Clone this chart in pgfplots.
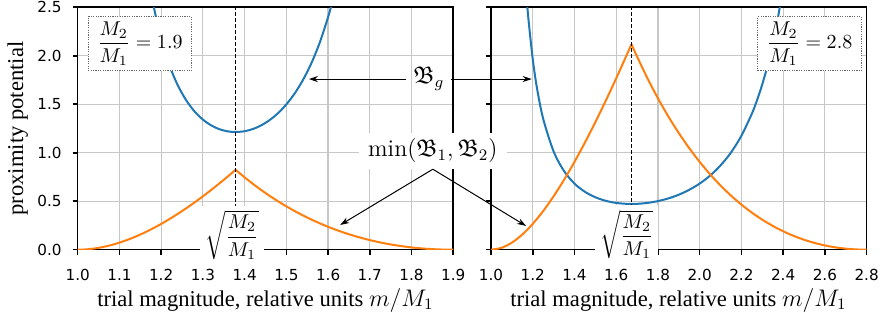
\documentclass[border=0pt]{standalone}
\usepackage{fontspec}
\usepackage{amsmath,amssymb}
\usepackage{pgfplots}
\pgfplotsset{compat=1.18}
\usetikzlibrary{arrows.meta}
\newfontfamily\tickfont{DejaVu Sans}
\newfontfamily\labelfont{Liberation Serif}
\definecolor{tabblue}{HTML}{1F77B4}
\definecolor{taborange}{HTML}{FF7F0E}

\pgfplotsset{
  common/.style={
    scale only axis, width=187.8pt, height=121.2pt,
    ymin=0, ymax=2.5, xmin=1,
    ytick={0,0.5,1,1.5,2,2.5},
    grid=major, grid style={line width=0.6pt, color=black!22},
    axis line style={line width=0.8pt},
    every tick/.style={line width=0.8pt, black},
    tick align=outside, major tick length=2.5pt,
    xtick pos=lower, ytick pos=left,
    ticklabel style={font=\tickfont\fontsize{7.6}{9}\selectfont},
    xticklabel style={anchor=north, inner sep=0pt, yshift=-7pt},
    yticklabel style={anchor=east, inner sep=0pt, xshift=-5.35pt},
    clip mode=individual,
    /pgf/number format/fixed,
    /pgf/number format/fixed zerofill,
    /pgf/number format/precision=1,
    /pgf/number format/assume math mode=true,
  },
  curve/.style={line width=1pt, smooth, no markers},
}
\tikzset{
  ratiobox/.style={fill=white, draw=black!60, line width=0.45pt, dash pattern=on 0.6pt off 0.6pt, inner xsep=4.5pt, inner ysep=2.5pt},
  sqrtlab/.style={fill=white, inner sep=2.5pt},
  arr/.style={-{Stealth[length=4.5pt,width=3pt]}, line width=0.5pt, black},
}
\newcommand{\xlab}{{\labelfont\fontsize{11.3}{13}\selectfont trial magnitude, relative units \fontsize{12}{14}\selectfont$m/M_1$}}

\begin{document}
\begin{tikzpicture}
\path[use as bounding box] (-38.85pt,-32.15pt) rectangle (401.15pt,124.85pt);

% ---------------- left panel ----------------
\begin{axis}[common, name=left, at={(0pt,0pt)}, anchor=south west,
  xmax=1.9, xtick={1,1.1,1.2,1.3,1.4,1.5,1.6,1.7,1.8,1.9}]
\addplot[curve, tabblue] coordinates {
(1.17,2.801) (1.18,2.557) (1.19,2.351) (1.20,2.176) (1.22,1.899) (1.24,1.694)
(1.26,1.541) (1.28,1.426) (1.30,1.342) (1.32,1.282) (1.34,1.242) (1.36,1.220)
(1.3784,1.2137) (1.40,1.222) (1.42,1.245) (1.44,1.283) (1.46,1.337) (1.48,1.408)
(1.50,1.499) (1.52,1.612) (1.54,1.752) (1.56,1.924) (1.58,2.136) (1.60,2.399)
(1.61,2.554) (1.62,2.728)};
\addplot[curve, taborange] coordinates {
(1.00,0) (1.02,0.0031) (1.04,0.0123) (1.06,0.0272) (1.08,0.0474) (1.10,0.0727)
(1.12,0.1027) (1.14,0.1373) (1.16,0.1762) (1.18,0.2192) (1.20,0.2659) (1.22,0.3163)
(1.24,0.3702) (1.26,0.4273) (1.28,0.4875) (1.30,0.5507) (1.32,0.6166) (1.34,0.6852)
(1.36,0.7564) (1.3784,0.8240)};
\addplot[curve, taborange] coordinates {
(1.3784,0.8240) (1.40,0.7461) (1.42,0.6784) (1.44,0.6148) (1.46,0.5551) (1.48,0.4992)
(1.50,0.4470) (1.52,0.3983) (1.54,0.3530) (1.56,0.3110) (1.58,0.2721) (1.60,0.2363)
(1.62,0.2033) (1.64,0.1732) (1.66,0.1459) (1.68,0.1212) (1.70,0.0990) (1.72,0.0792)
(1.74,0.0619) (1.76,0.0469) (1.78,0.0341) (1.80,0.0234) (1.82,0.0148) (1.84,0.0082)
(1.86,0.0036) (1.88,0.0009) (1.90,0)};
\draw[line width=0.5pt, dash pattern=on 2pt off 1pt] (axis cs:1.3784,0) -- (axis cs:1.3784,2.5);
\node[sqrtlab, xshift=-1.8pt] at (axis cs:1.3784,0.152) {$\displaystyle\sqrt{\frac{M_2}{M_1}}$};
\node[ratiobox] at (axis cs:1.149,2.125) {$\dfrac{M_2}{M_1}=1.9$};
\coordinate (BgL) at (axis cs:1.554,1.76);
\coordinate (BgText) at (axis cs:1.8416,1.76);
\coordinate (minText) at (axis cs:1.851,1.02);
\coordinate (minL) at (axis cs:1.629,0.255);
\end{axis}

% ---------------- right panel ----------------
\begin{axis}[common, name=right, at={(206.65pt,0pt)}, anchor=south west,
  xmax=2.8, xtick={1,1.2,1.4,1.6,1.8,2,2.2,2.4,2.6,2.8}, yticklabels={}]
\addplot[curve, tabblue] coordinates {
(1.16,2.918) (1.17,2.618) (1.18,2.365) (1.20,1.967) (1.22,1.671) (1.25,1.351)
(1.30,1.014) (1.35,0.811) (1.40,0.682) (1.45,0.597) (1.50,0.541) (1.55,0.504)
(1.60,0.4825) (1.65,0.4727) (1.6733,0.4717) (1.70,0.4730) (1.75,0.4825) (1.80,0.501)
(1.85,0.529) (1.90,0.567) (1.95,0.618) (2.00,0.682) (2.05,0.764) (2.10,0.869)
(2.15,1.002) (2.20,1.175) (2.25,1.402) (2.275,1.542) (2.30,1.705) (2.325,1.896)
(2.35,2.122) (2.37,2.332) (2.39,2.576) (2.40,2.712)};
\addplot[curve, taborange] coordinates {
(1.00,0) (1.05,0.0190) (1.10,0.0727) (1.15,0.1563) (1.20,0.2659) (1.25,0.3983)
(1.30,0.5507) (1.35,0.7205) (1.40,0.9057) (1.45,1.1045) (1.50,1.3152) (1.55,1.5365)
(1.60,1.7672) (1.65,2.0062) (1.6733,2.1202)};
\addplot[curve, taborange] coordinates {
(1.6733,2.1202) (1.70,1.9919) (1.75,1.7672) (1.80,1.5617) (1.85,1.3740) (1.90,1.2029)
(1.95,1.0471) (2.00,0.9057) (2.05,0.7776) (2.10,0.6621) (2.15,0.5582) (2.20,0.4653)
(2.25,0.3826) (2.30,0.3096) (2.35,0.2456) (2.40,0.1901) (2.45,0.1426) (2.50,0.1027)
(2.55,0.0700) (2.60,0.0439) (2.65,0.0243) (2.70,0.0106) (2.75,0.0026) (2.80,0)};
\draw[line width=0.5pt, dash pattern=on 2pt off 1pt] (axis cs:1.6733,0) -- (axis cs:1.6733,2.5);
\node[sqrtlab, xshift=-2.35pt] at (axis cs:1.6733,0.16) {$\displaystyle\sqrt{\frac{M_2}{M_1}}$};
\node[ratiobox] at (axis cs:2.527,2.125) {$\dfrac{M_2}{M_1}=2.8$};
\coordinate (BgR) at (axis cs:1.195,1.76);
\coordinate (minR) at (axis cs:1.168,0.245);
\end{axis}

% ---------------- labels and annotations ----------------
\node[rotate=90, font=\labelfont\fontsize{11.3}{13}\selectfont] at (-30pt,60.6pt) {proximity potential};
\node[anchor=base] at (93.9pt,-28.2pt) {\xlab};
\node[anchor=base] at (300.4pt,-28.2pt) {\xlab};

\node[font=\fontsize{12}{14}\selectfont] (Bg) at (BgText) {$\mathfrak{B}_g$};
\draw[arr] (Bg) -- (BgL);
\draw[arr] (Bg) -- (BgR);
\node[fill=white, inner xsep=4.5pt, inner ysep=3pt, font=\fontsize{12}{14}\selectfont] (mn) at (minText) {$\min(\mathfrak{B}_1,\mathfrak{B}_2)$};
\draw[arr] (mn.south) -- (minL);
\draw[arr] (mn.south) -- (minR);
\end{tikzpicture}
\end{document}
